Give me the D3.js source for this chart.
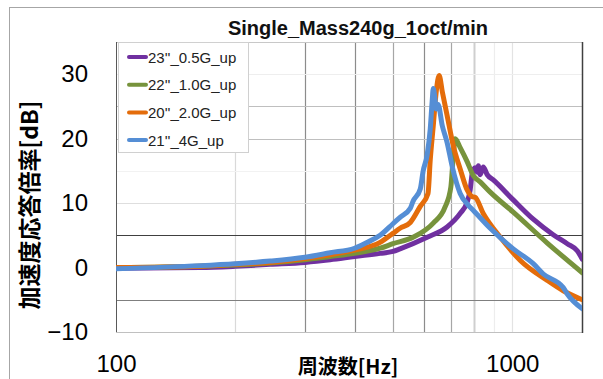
<!DOCTYPE html>
<html>
<head>
<meta charset="utf-8">
<script src="https://cdn.jsdelivr.net/npm/d3@7"></script>
<style>
  body { margin: 0; background: #fff; }
  svg { display: block; }
</style>
</head>
<body>
<div id="host"></div>
<script>
const chartTitle = "Single_Mass240g_1oct/min";
const yTitle = "加速度応答倍率[dB]";
const xTitle = "周波数[Hz]";
const seriesNames = ["23''_0.5G_up", "22''_1.0G_up", "20''_2.0G_up", "21''_4G_up"];
const xTicks = [100, 1000];
const yTicks = [-10, 0, 10, 20, 30];
const xGrid = [200, 300, 400, 500, 600, 700, 800, 900, 1000];
const yGrid = [-5, 0, 5, 10, 15, 20, 25, 30];

// 23''_0.5G_up
const s23Freq = [100, 163, 200, 245, 300, 347, 400, 464, 500, 521, 610, 685, 739, 770, 783, 793, 806, 815, 821, 830, 845, 865, 896, 1006, 1130, 1269, 1377, 1459, 1503];
const s23Db = [-0.1, 0.0, 0.2, 0.5, 0.8, 1.2, 1.7, 2.2, 2.5, 2.9, 4.7, 6.3, 8.4, 10.2, 12.0, 14.7, 15.5, 14.8, 15.8, 14.4, 15.6, 14.4, 13.6, 10.5, 7.5, 5.1, 3.7, 2.6, 1.3];
// 22''_1.0G_up
const s22Freq = [100, 163, 200, 245, 300, 347, 400, 464, 500, 562, 632, 677, 700, 710, 718, 739, 770, 797, 830, 880, 1006, 1226, 1503];
const s22Db = [0.0, 0.2, 0.4, 0.7, 1.2, 1.7, 2.2, 3.0, 3.7, 4.7, 6.9, 9.4, 12.5, 17.3, 20.0, 18.6, 16.4, 14.3, 13.3, 11.7, 8.6, 3.8, -0.8];
// 20''_2.0G_up
const s20Freq = [100, 163, 200, 245, 300, 347, 400, 464, 500, 521, 553, 586, 613, 621, 632, 643, 654, 666, 685, 710, 739, 770, 793, 806, 845, 933, 1048, 1226, 1345, 1503];
const s20Db = [0.0, 0.2, 0.5, 0.8, 1.4, 2.0, 2.7, 3.9, 5.3, 6.1, 7.0, 9.5, 11.5, 16.7, 22.0, 27.3, 29.8, 27.3, 23.6, 18.9, 15.3, 12.0, 11.0, 10.9, 8.4, 4.7, 1.1, -2.0, -3.6, -5.0];
// 21''_4G_up
const s21Freq = [100, 163, 200, 245, 300, 347, 400, 430, 464, 500, 521, 553, 562, 586, 596, 610, 621, 628, 632, 639, 643, 650, 666, 685, 706, 739, 774, 797, 880, 1006, 1130, 1198, 1345, 1377, 1503];
const s21Db = [-0.2, 0.3, 0.6, 1.0, 1.6, 2.3, 3.0, 3.9, 5.0, 6.8, 7.8, 9.2, 10.3, 12.2, 15.0, 17.5, 21.5, 25.8, 27.8, 25.9, 24.6, 25.3, 22.0, 19.4, 15.6, 11.5, 9.7, 8.9, 6.1, 2.9, 0.6, -1.0, -3.1, -4.1, -6.4];

const colors = ["#7030a0", "#77933c", "#e46c0a", "#558ed5"];
const series = [
  { name: seriesNames[0], f: s23Freq, v: s23Db },
  { name: seriesNames[1], f: s22Freq, v: s22Db },
  { name: seriesNames[2], f: s20Freq, v: s20Db },
  { name: seriesNames[3], f: s21Freq, v: s21Db },
];

const width = 603, height = 379;
const plot = { left: 116, right: 582, top: 42, bottom: 332 };

const svg = d3.select("#host").append("svg")
  .attr("width", width).attr("height", height)
  .style("font-family", "'Liberation Sans', Arial, sans-serif");

// outer chart frame
svg.append("rect")
  .attr("x", 9.5).attr("y", 7.5).attr("width", 640).attr("height", 400)
  .attr("fill", "none").attr("stroke", "#a6a6a6");

const x = d3.scaleLog().domain([100, 1500]).range([plot.left, plot.right]);
const y = d3.scaleLinear().domain([-10, 35]).range([plot.bottom, plot.top]);

// gridlines (shade varies like the source picture)
const vShade = { 200: "#d9d9d9", 300: "#8c8c8c", 400: "#8c8c8c", 500: "#a6a6a6", 600: "#8c8c8c", 700: "#a6a6a6", 800: "#cfcfcf", 900: "#ededed", 1000: "#e3e3e3" };
const hShade = { "-5": "#7f7f7f", 0: "#ececec", 5: "#404040", 10: "#dedede", 15: "#f2f2f2", 20: "#bfbfbf", 25: "#bfbfbf", 30: "#eeeeee" };

const grid = svg.append("g");
grid.selectAll("line.v").data(xGrid).join("line")
  .attr("class", "v")
  .attr("x1", (d) => Math.round(x(d)) + 0.5).attr("x2", (d) => Math.round(x(d)) + 0.5)
  .attr("y1", plot.top).attr("y2", plot.bottom)
  .attr("stroke", (d) => vShade[d])
  .attr("stroke-width", (d) => (d === 800 ? 2 : 1.2));
grid.selectAll("line.h").data(yGrid).join("line")
  .attr("class", "h")
  .attr("x1", plot.left).attr("x2", plot.right)
  .attr("y1", (d) => Math.round(y(d)) + 0.5).attr("y2", (d) => Math.round(y(d)) + 0.5)
  .attr("stroke", (d) => hShade[d])
  .attr("stroke-width", 1.2);

// plot borders
svg.append("line").attr("x1", plot.left).attr("x2", plot.right).attr("y1", plot.top + 0.5).attr("y2", plot.top + 0.5).attr("stroke", "#c8c8c8");
svg.append("line").attr("x1", plot.left).attr("x2", plot.right).attr("y1", plot.bottom + 0.5).attr("y2", plot.bottom + 0.5).attr("stroke", "#c0c0c0");
svg.append("line").attr("x1", plot.left + 0.5).attr("x2", plot.left + 0.5).attr("y1", plot.top).attr("y2", plot.bottom).attr("stroke", "#595959");
svg.append("line").attr("x1", plot.right + 0.5).attr("x2", plot.right + 0.5).attr("y1", plot.top).attr("y2", plot.bottom + 1).attr("stroke", "#404040").attr("stroke-width", 1.5);

svg.append("clipPath").attr("id", "clip").append("rect")
  .attr("x", plot.left).attr("y", plot.top)
  .attr("width", plot.right - plot.left).attr("height", plot.bottom - plot.top);

const line = d3.line().x((d) => x(d[0])).y((d) => y(d[1])).curve(d3.curveMonotoneX);
svg.append("g").attr("clip-path", "url(#clip)")
  .selectAll("path").data(series).join("path")
  .attr("d", (s) => line(s.f.map((f, i) => [f, s.v[i]])))
  .attr("fill", "none")
  .attr("stroke", (s, i) => colors[i])
  .attr("stroke-width", 5)
  .attr("stroke-linejoin", "round")
  .attr("stroke-linecap", "round");

// axes
const yAxis = svg.append("g")
  .attr("transform", `translate(${plot.left},0)`)
  .call(d3.axisLeft(y).tickValues(yTicks).tickSize(0).tickPadding(28));
yAxis.select(".domain").remove();
yAxis.selectAll("text").attr("font-size", 24).attr("fill", "#000").attr("font-family", "'Liberation Sans', Arial, sans-serif");

const xAxis = svg.append("g")
  .attr("transform", `translate(0,${plot.bottom})`)
  .call(d3.axisBottom(x).tickValues(xTicks).tickFormat(d3.format("d")).tickSize(0).tickPadding(23));
xAxis.select(".domain").remove();
xAxis.selectAll("text").attr("font-size", 24).attr("fill", "#000").attr("font-family", "'Liberation Sans', Arial, sans-serif");

// legend
const lg = svg.append("g");
lg.append("rect")
  .attr("x", 118.5).attr("y", 42.5).attr("width", 130).attr("height", 110)
  .attr("fill", "#fff").attr("stroke", "#d0d0d0");
const rows = lg.selectAll("g.row").data(series).join("g")
  .attr("class", "row")
  .attr("transform", (s, i) => `translate(0,${57 + i * 27.7})`);
rows.append("line")
  .attr("x1", 129).attr("x2", 146).attr("y1", 0).attr("y2", 0)
  .attr("stroke", (s, i) => colors[i]).attr("stroke-width", 4).attr("stroke-linecap", "round");
rows.append("text")
  .attr("x", 148).attr("y", 5.5)
  .attr("font-size", 15).attr("fill", "#222")
  .text((s) => s.name);

// titles
svg.append("text")
  .attr("x", 358).attr("y", 35)
  .attr("text-anchor", "middle").attr("font-size", 20).attr("font-weight", "bold")
  .attr("fill", "#111")
  .text(chartTitle);

svg.append("text")
  .attr("x", 348).attr("y", 374)
  .attr("text-anchor", "middle").attr("font-size", 20).attr("font-weight", "bold")
  .attr("font-family", "'Noto Sans CJK JP', 'Liberation Sans', sans-serif")
  .text(xTitle);

svg.append("text")
  .attr("transform", "translate(38,205) rotate(-90)")
  .attr("text-anchor", "middle").attr("font-size", 23).attr("font-weight", "bold")
  .attr("font-family", "'Noto Sans CJK JP', 'Liberation Sans', sans-serif")
  .text(yTitle);
</script>
</body>
</html>
